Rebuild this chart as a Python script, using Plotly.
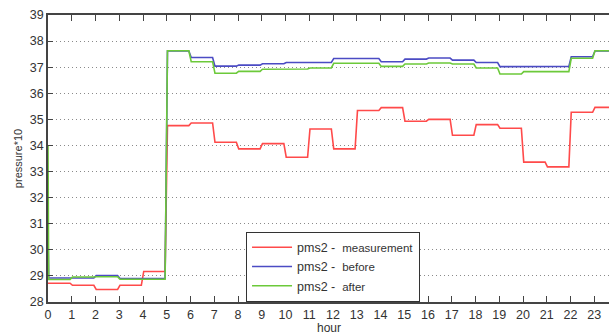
import plotly.graph_objects as go

# ---- data ----
hours = list(range(24))  # start hour of each hourly segment
measurement = [28.72, 28.64, 28.48, 28.64, 29.17, 34.76, 34.86, 34.12, 33.87, 34.07,
               33.55, 34.63, 33.87, 35.34, 35.45, 34.93, 35.00, 34.39, 34.80, 34.66,
               33.36, 33.18, 35.27, 35.46]
before = [28.92, 28.92, 29.01, 28.90, 28.90, 37.62, 37.37, 37.04, 37.08, 37.13,
          37.18, 37.18, 37.33, 37.33, 37.21, 37.31, 37.35, 37.27, 37.18, 37.02,
          37.03, 37.03, 37.40, 37.62]
after = [28.86, 28.96, 28.97, 28.87, 28.87, 37.63, 37.21, 36.77, 36.84, 36.92,
         36.93, 36.97, 37.15, 37.15, 37.03, 37.12, 37.16, 37.12, 36.97, 36.74,
         36.83, 36.83, 37.34, 37.63]
start_values = {"measurement": 28.72, "before": 30.6, "after": 34.0}
x_ticks = list(range(24))
y_ticks = list(range(28, 40))


def steps(start, vals):
    xs, ys = [0.0], [start]
    for h, v in zip(hours, vals):
        xs += [h + 0.03, h + 0.93]
        ys += [v, v]
    xs[-1] = 24.0
    return xs, ys


series = [
    ("measurement", measurement, "#ff4a4a"),
    ("before", before, "#4b4bc4"),
    ("after", after, "#6cc93a"),
]

fig = go.Figure()
for name, vals, col in series:
    xs, ys = steps(start_values[name], vals)
    fig.add_trace(go.Scatter(
        x=xs, y=ys, mode="lines",
        name="pms2 -  <span style='font-size:11.5px'>" + name + "</span>",
        line=dict(color=col, width=1.6),
    ))

axis_font = dict(family="Liberation Sans, Arial, sans-serif", size=12.5, color="#333333")

fig.update_layout(
    width=609, height=333,
    margin=dict(l=48, r=0, t=15, b=31),
    paper_bgcolor="white", plot_bgcolor="white",
    font=dict(family="Liberation Sans, Arial, sans-serif", size=12, color="#333333"),
    showlegend=True,
    legend=dict(
        x=0.353, y=0.245, xanchor="left", yanchor="top",
        bgcolor="white", bordercolor="#333333", borderwidth=1,
        font=dict(size=12.5, color="#333333"),
        tracegroupgap=0, itemwidth=40,
    ),
    xaxis=dict(
        range=[0, 23.62], tickvals=x_ticks, ticktext=[str(t) for t in x_ticks],
        showgrid=False, zeroline=False, automargin=False,
        showline=True, linecolor="#444444", linewidth=1.5, mirror="ticks",
        ticks="inside", ticklen=6, tickcolor="#444444", tickwidth=1,
        tickfont=axis_font,
    ),
    yaxis=dict(
        range=[28, 39], tickvals=y_ticks, ticktext=[str(t) for t in y_ticks],
        showgrid=True, gridcolor="#8a8a8a", griddash="1px,3px", gridwidth=1,
        zeroline=False, automargin=False,
        showline=True, linecolor="#444444", linewidth=1.5, mirror=False,
        ticks="inside", ticklen=5, tickcolor="#444444", tickwidth=1,
        tickfont=axis_font,
        title=dict(text="pressure*10", font=dict(size=11, color="#333333"), standoff=5),
    ),
    annotations=[dict(
        text="hour", xref="paper", yref="paper", x=0.5, y=-0.089,
        xanchor="center", yanchor="middle", showarrow=False, borderpad=0,
        font=dict(size=12, color="#333333"),
    )],
)

fig.write_html("out.html", config={"displayModeBar": False},
               post_script="document.body.style.margin='0';document.body.style.overflow='hidden';")
